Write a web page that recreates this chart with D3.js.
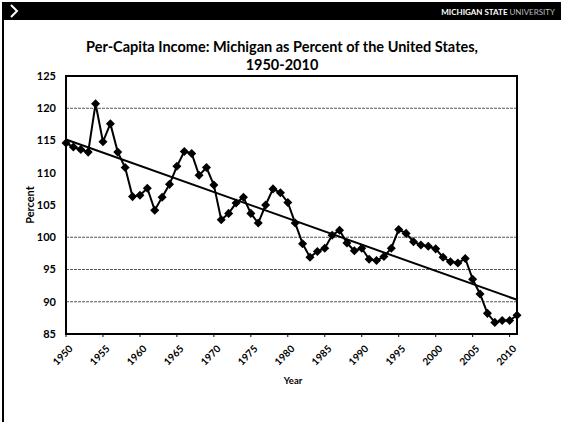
<!DOCTYPE html>
<meta charset="utf-8">
<script src="https://d3js.org/d3.v7.min.js"></script>
<style>
  body { margin: 0; background: #fff; }
  svg { display: block; font-family: Lato, "Open Sans", sans-serif; }
</style>
<div id="chart"></div>
<script>

// Michigan per-capita income as % of US
const years = d3.range(1950, 2012);
const percent = [
  114.6, 114.0, 113.6, 113.2, 120.7, 114.8, 117.6, 113.2, 110.8, 106.3,
  106.5, 107.6, 104.2, 106.2, 108.2, 111.0, 113.3, 113.0, 109.6, 110.8,
  108.1, 102.7, 103.7, 105.3, 106.2, 103.7, 102.2, 105.0, 107.5, 106.9,
  105.4, 102.2,  99.0,  96.9,  97.8,  98.3, 100.3, 101.1,  99.1,  97.9,
   98.3,  96.6,  96.4,  97.0,  98.3, 101.2, 100.6,  99.3,  98.8,  98.6,
   98.2,  96.9,  96.2,  96.0,  96.7,  93.5,  91.2,  88.2,  86.8,  87.1,
   87.1,  87.9
];
const yTicks = [85, 90, 95, 100, 105, 110, 115, 120, 125];
const gridValues = [90, 95, 100, 120];
const xTicks = d3.range(1950, 2011, 5);

const W = 561, H = 422;
const plot = {left: 66, right: 517, top: 76, bottom: 334};

const svg = d3.select("#chart").append("svg")
  .attr("width", W).attr("height", H);

// page frame + header band
svg.append("rect").attr("x", 0).attr("y", 0).attr("width", W).attr("height", H).attr("fill", "#fff");
svg.append("rect").attr("x", 3).attr("y", 2).attr("width", W - 3).attr("height", 18).attr("fill", "#000");
svg.append("line").attr("x1", 3).attr("x2", 3).attr("y1", 2).attr("y2", H)
  .attr("stroke", "#000").attr("stroke-width", 2);
svg.append("polyline").attr("points", "11,5 17,11 11,17")
  .attr("fill", "none").attr("stroke", "#fff").attr("stroke-width", 2);
const brand = svg.append("text").attr("x", 555).attr("y", 15)
  .attr("text-anchor", "end").attr("font-size", 8).attr("fill", "#fff");
brand.append("tspan").attr("font-weight", "bold").text("MICHIGAN STATE ");
brand.append("tspan").attr("fill", "#bbb").text("UNIVERSITY");

// title
const title = svg.append("text").attr("text-anchor", "middle")
  .attr("font-weight", "bold").attr("font-size", 14.5).attr("fill", "#000");
title.append("tspan").attr("x", 282).attr("y", 52).text("Per-Capita Income: Michigan as Percent of the United States,");
title.append("tspan").attr("x", 282).attr("y", 70).text("1950-2010");

// scales
const x = d3.scaleLinear().domain([1950, 2011]).range([plot.left, plot.right]);
const y = d3.scaleLinear().domain([85, 125]).range([plot.bottom, plot.top]);

// gridlines
svg.append("g").selectAll("line").data(gridValues).join("line")
  .attr("x1", plot.left).attr("x2", plot.right)
  .attr("y1", d => y(d)).attr("y2", d => y(d))
  .attr("stroke", "#555").attr("stroke-width", 1).attr("stroke-dasharray", "3,1");

// plot border
svg.append("rect")
  .attr("x", plot.left).attr("y", plot.top)
  .attr("width", plot.right - plot.left).attr("height", plot.bottom - plot.top)
  .attr("fill", "none").attr("stroke", "#000").attr("stroke-width", 2);

// y axis labels
svg.append("g").selectAll("text").data(yTicks).join("text")
  .attr("x", 56).attr("y", d => y(d)).attr("dy", "0.35em")
  .attr("text-anchor", "end").attr("font-weight", "bold").attr("font-size", 11)
  .text(d => d);

svg.append("text")
  .attr("transform", `translate(34,${(plot.top + plot.bottom) / 2}) rotate(-90)`)
  .attr("text-anchor", "middle").attr("font-weight", "bold").attr("font-size", 11)
  .text("Percent");

// x axis ticks + rotated labels
svg.append("g").selectAll("line").data(xTicks).join("line")
  .attr("x1", d => x(d)).attr("x2", d => x(d))
  .attr("y1", plot.bottom).attr("y2", plot.bottom + 3)
  .attr("stroke", "#000");

svg.append("g").selectAll("text").data(xTicks).join("text")
  .attr("transform", d => `translate(${x(d) + 5},${plot.bottom + 13}) rotate(-45)`)
  .attr("text-anchor", "end").attr("dy", "0.35em")
  .attr("font-weight", "bold").attr("font-size", 10)
  .text(d => d);

svg.append("text").attr("x", 293).attr("y", 384)
  .attr("text-anchor", "middle").attr("font-weight", "bold").attr("font-size", 9.5)
  .text("Year");

// linear trend (least squares)
const mx = d3.mean(years), my = d3.mean(percent);
const slope = d3.sum(years, (d, i) => (d - mx) * (percent[i] - my)) /
              d3.sum(years, d => (d - mx) * (d - mx));
const trendAt = yr => my + slope * (yr - mx);
svg.append("line")
  .attr("x1", x(1950)).attr("y1", y(trendAt(1950)))
  .attr("x2", x(2011)).attr("y2", y(trendAt(2011)))
  .attr("stroke", "#000").attr("stroke-width", 2);

// data line + diamond markers
const line = d3.line().x((d, i) => x(years[i])).y(d => y(d));
svg.append("path").datum(percent)
  .attr("d", line).attr("fill", "none")
  .attr("stroke", "#000").attr("stroke-width", 2);

svg.append("g").selectAll("path").data(percent).join("path")
  .attr("transform", (d, i) => `translate(${x(years[i])},${y(d)})`)
  .attr("d", d3.symbol(d3.symbolDiamond2, 52))
  .attr("fill", "#000");

</script>
